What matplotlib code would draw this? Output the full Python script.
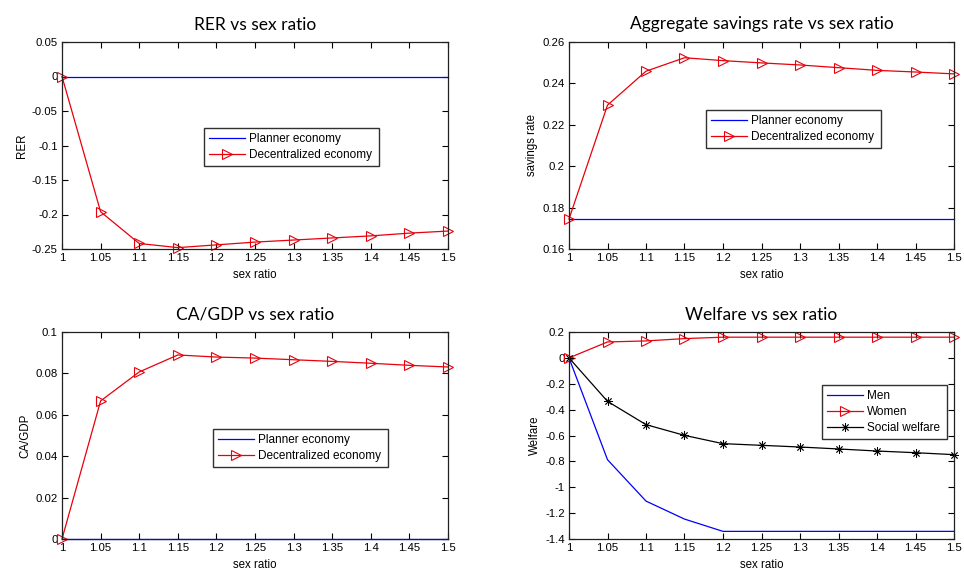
import matplotlib
matplotlib.use("Agg")
import matplotlib.pyplot as plt
from matplotlib.ticker import FuncFormatter

plt.rcParams['font.family'] = ['Liberation Sans', 'DejaVu Sans']

sex_ratio = [1.0, 1.05, 1.1, 1.15, 1.2, 1.25, 1.3, 1.35, 1.4, 1.45, 1.5]

rer_planner = [0.0] * 11
rer_decentral = [0.0, -0.196, -0.242, -0.248, -0.244, -0.240, -0.237, -0.234, -0.231, -0.227, -0.224]

sav_planner = [0.1745] * 11
sav_decentral = [0.1745, 0.2295, 0.2459, 0.2524, 0.2510, 0.2499, 0.2489, 0.2476, 0.2463, 0.2455, 0.2446]

ca_planner = [0.0] * 11
ca_decentral = [0.0, 0.0667, 0.0807, 0.0889, 0.0879, 0.0874, 0.0866, 0.0858, 0.0849, 0.0839, 0.0831]

welf_men = [0.0, -0.787, -1.107, -1.246, -1.341, -1.341, -1.341, -1.341, -1.341, -1.341, -1.341]
welf_women = [0.0, 0.123, 0.131, 0.149, 0.160, 0.160, 0.160, 0.160, 0.160, 0.160, 0.160]
welf_social = [0.0, -0.336, -0.516, -0.599, -0.663, -0.676, -0.689, -0.704, -0.720, -0.733, -0.748]

x_ticks = [1.0, 1.05, 1.1, 1.15, 1.2, 1.25, 1.3, 1.35, 1.4, 1.45, 1.5]
rer_ticks = [-0.25, -0.2, -0.15, -0.1, -0.05, 0, 0.05]
sav_ticks = [0.16, 0.18, 0.2, 0.22, 0.24, 0.26]
ca_ticks = [0, 0.02, 0.04, 0.06, 0.08, 0.1]
welf_ticks = [-1.4, -1.2, -1, -0.8, -0.6, -0.4, -0.2, 0, 0.2]

W, H = 964, 571
fig = plt.figure(figsize=(W / 100, H / 100), dpi=100)

BLUE = '#0000ff'
RED = '#e8000b'
TITLE_FONT = ['Lato', 'DejaVu Sans']


def px_axes(l, t, r, b):
    return fig.add_axes([l / W, 1 - b / H, (r - l) / W, (b - t) / H])


def fmt(v, pos):
    return '%g' % round(v, 6)


def style(ax, yticks, title, ylabel):
    ax.set_xlim(1, 1.5)
    ax.set_ylim(yticks[0], yticks[-1])
    ax.set_xticks(x_ticks)
    ax.set_yticks(yticks)
    ax.xaxis.set_major_formatter(FuncFormatter(fmt))
    ax.yaxis.set_major_formatter(FuncFormatter(fmt))
    ax.tick_params(direction='in', top=True, right=True, length=4, width=0.8,
                   labelsize=8.2, colors='black', pad=3)
    for sp in ax.spines.values():
        sp.set_linewidth(0.9)
        sp.set_color('#202020')
    ax.set_title(title, family=TITLE_FONT, fontsize=12.5, pad=9)
    ax.set_xlabel('sex ratio', fontsize=8.3, labelpad=4.5)
    ax.set_ylabel(ylabel, fontsize=8.3, labelpad=3)


def legend(ax, l, t, r, b):
    leg = ax.legend(loc='upper left',
                    bbox_to_anchor=(l / W, 1 - b / H, (r - l) / W, (b - t) / H),
                    bbox_transform=fig.transFigure, mode='expand',
                    fontsize=8.5, frameon=True, fancybox=False, shadow=False,
                    handlelength=3.0, borderaxespad=0, borderpad=0.45,
                    labelspacing=0.32, handletextpad=0.4)
    fr = leg.get_frame()
    fr.set_edgecolor('#303030')
    fr.set_linewidth(1.0)
    fr.set_alpha(1)
    return leg


mk = dict(marker='>', markersize=6.5, markerfacecolor='none', markeredgecolor=RED,
          markeredgewidth=0.8)

# RER
ax1 = px_axes(62, 42, 448, 249)
ax1.plot(sex_ratio, rer_planner, color=BLUE, lw=0.9, label='Planner economy')
ax1.plot(sex_ratio, rer_decentral, color=RED, lw=0.9, label='Decentralized economy', **mk)
style(ax1, rer_ticks, 'RER vs sex ratio', 'RER')
legend(ax1, 204, 128, 379, 166)

# Savings rate
ax2 = px_axes(569, 42, 954, 249)
ax2.plot(sex_ratio, sav_planner, color=BLUE, lw=0.9, label='Planner economy')
ax2.plot(sex_ratio, sav_decentral, color=RED, lw=0.9, label='Decentralized economy', **mk)
style(ax2, sav_ticks, 'Aggregate savings rate vs sex ratio', 'savings rate')
legend(ax2, 706, 110, 881, 148)

# CA/GDP
ax3 = px_axes(62, 332, 448, 539)
ax3.plot(sex_ratio, ca_planner, color=BLUE, lw=0.9, label='Planner economy')
ax3.plot(sex_ratio, ca_decentral, color=RED, lw=0.9, label='Decentralized economy', **mk)
style(ax3, ca_ticks, 'CA/GDP vs sex ratio', 'CA/GDP')
legend(ax3, 213, 429, 388, 467)

# Welfare
ax4 = px_axes(569, 332, 954, 539)
ax4.plot(sex_ratio, welf_men, color=BLUE, lw=0.9, label='Men')
ax4.plot(sex_ratio, welf_women, color=RED, lw=0.9, label='Women', **mk)
ax4.plot(sex_ratio, welf_social, color='black', lw=0.9, label='Social welfare',
         marker=(8, 2, 0), markersize=6, markeredgewidth=0.6, markeredgecolor='black')
style(ax4, welf_ticks, 'Welfare vs sex ratio', 'Welfare')
legend(ax4, 822, 385, 947, 440)

for ax in (ax1, ax2, ax3, ax4):
    for ln in ax.get_lines():
        ln.set_clip_on(False)

fig.savefig('out.png', dpi=100)
